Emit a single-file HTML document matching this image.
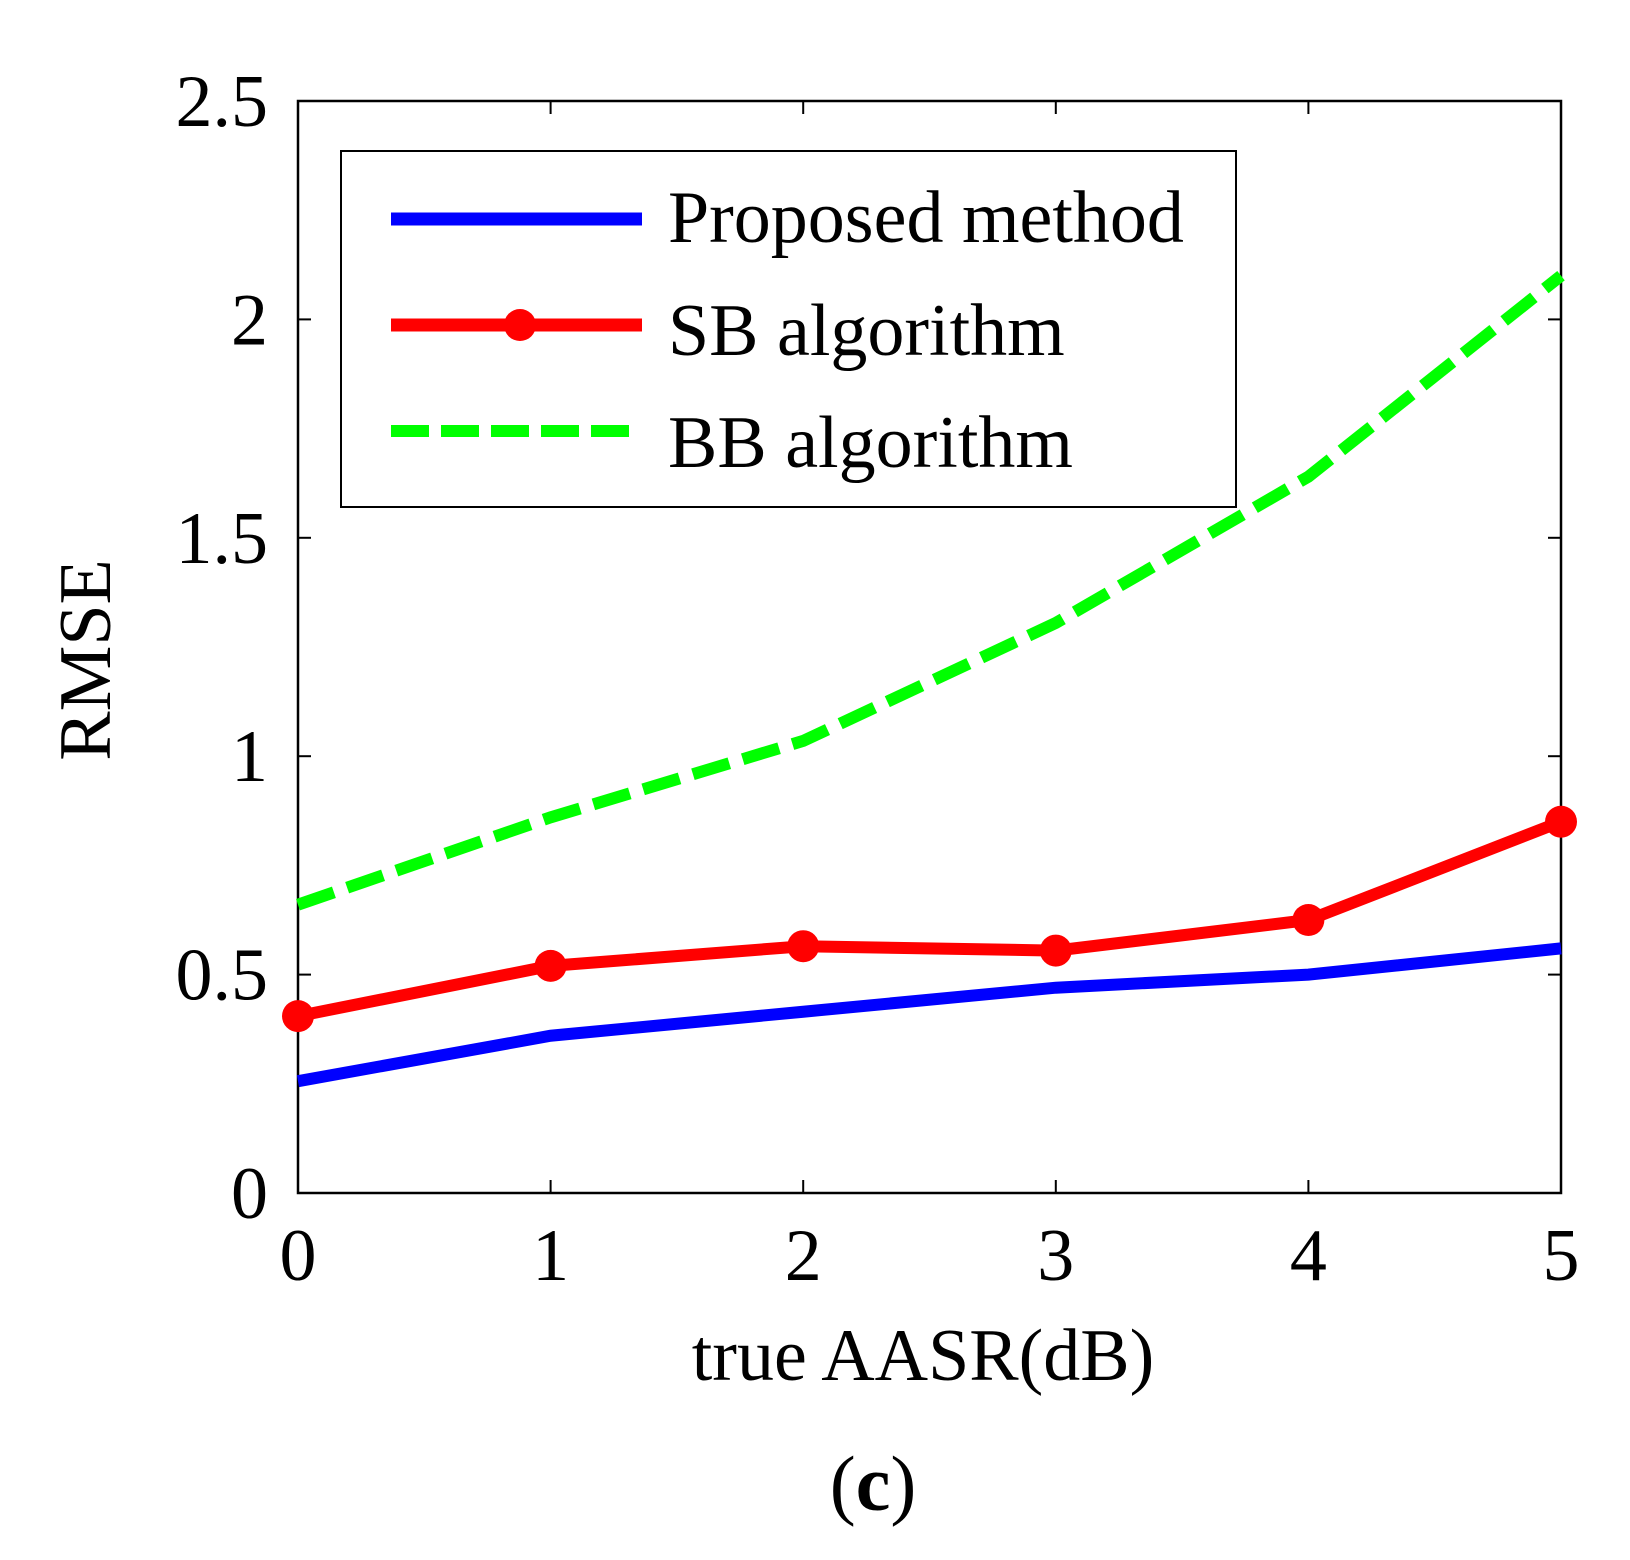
<!DOCTYPE html>
<html><head><meta charset="utf-8"><style>
html,body{margin:0;padding:0;background:#fff;}
svg{display:block;font-family:"Liberation Serif",serif;}
</style></head><body>
<svg id="chart" width="1630" height="1560" viewBox="0 0 1630 1560"></svg>
<script>
const categories=[0,1,2,3,4,5];
const proposedValues=[0.256,0.36,0.415,0.47,0.50,0.56];
const sbValues=[0.405,0.52,0.565,0.555,0.625,0.85];
const bbValues=[0.66,0.86,1.035,1.305,1.64,2.10];
const yTickValues=[0,0.5,1,1.5,2,2.5];
const yTickLabels=["0","0.5","1","1.5","2","2.5"];
const xTickLabels=["0","1","2","3","4","5"];

const NS="http://www.w3.org/2000/svg";
const svg=document.getElementById('chart');
const L=298,R=1561,T=101,B=1193;
const xs=v=>L+(v-0)/(5-0)*(R-L);
const ys=v=>B-v*436.8;
function mk(tag,attrs,parent){const e=document.createElementNS(NS,tag);for(const k in attrs)e.setAttribute(k,attrs[k]);(parent||svg).appendChild(e);return e;}

const frame=mk('rect',{x:L,y:T,width:R-L,height:B-T,fill:'none',stroke:'#000','stroke-width':2.5});



yTickValues.forEach((v,i)=>{
  const y=ys(v);
  if(v>0&&v<2.5){
    const t1=mk('line',{x1:L,x2:L+13,y1:y,y2:y,stroke:'#000','stroke-width':2});
    
    
    const t2=mk('line',{x1:R,x2:R-13,y1:y,y2:y,stroke:'#000','stroke-width':2});
    
    
  }
  const tx=mk('text',{x:268,y:y+25,'font-size':74,'text-anchor':'end'});
  tx.textContent=yTickLabels[i];
  
  
});
categories.forEach((c,i)=>{
  const x=xs(c);
  if(i>0&&i<5){
    const t1=mk('line',{x1:x,x2:x,y1:B,y2:B-13,stroke:'#000','stroke-width':2});
    
    
    const t2=mk('line',{x1:x,x2:x,y1:T,y2:T+13,stroke:'#000','stroke-width':2});
    
    
  }
  const tx=mk('text',{x:x,y:1280,'font-size':74,'text-anchor':'middle'});
  tx.textContent=xTickLabels[i];
  
  
});

function pts(vals){return vals.map((v,i)=>xs(categories[i])+','+ys(v)).join(' ');}
const bb=mk('polyline',{points:pts(bbValues),fill:'none',stroke:'#00ff00','stroke-width':12,'stroke-dasharray':'38 14'});


const pr=mk('polyline',{points:pts(proposedValues),fill:'none',stroke:'#0000ff','stroke-width':12});


const sb=mk('polyline',{points:pts(sbValues),fill:'none',stroke:'#ff0000','stroke-width':12});


sbValues.forEach((v,i)=>{
  const c=mk('circle',{cx:xs(categories[i]),cy:ys(v),r:16,fill:'#ff0000'});
  
  
});

const lg=mk('g',{});


mk('rect',{x:341,y:151,width:895,height:356,fill:'#fff',stroke:'#000','stroke-width':2},lg);
mk('line',{x1:391,x2:642,y1:219,y2:219,stroke:'#0000ff','stroke-width':13},lg);
mk('line',{x1:391,x2:642,y1:325,y2:325,stroke:'#ff0000','stroke-width':13},lg);
mk('circle',{cx:520,cy:325,r:16,fill:'#ff0000'},lg);
mk('line',{x1:391,x2:630,y1:431,y2:431,stroke:'#00ff00','stroke-width':12,'stroke-dasharray':'38 12'},lg);
const names=["Proposed method","SB algorithm","BB algorithm"];
[242,355,467].forEach((y,i)=>{
  const t=mk('text',{x:668,y:y,'font-size':74},lg);
  t.textContent=names[i];
  
  
});

const xl=mk('text',{x:923,y:1380,'font-size':74,'text-anchor':'middle'});
xl.textContent='true AASR(dB)';


const yl=mk('text',{x:0,y:0,'font-size':74,'text-anchor':'middle',transform:'translate(110,660) rotate(-90)'});
yl.textContent='RMSE';


const cap=mk('text',{x:873,y:1510,'font-size':78,'text-anchor':'middle'});
cap.innerHTML='(<tspan font-weight="bold">c</tspan>)';


</script>
</body></html>
